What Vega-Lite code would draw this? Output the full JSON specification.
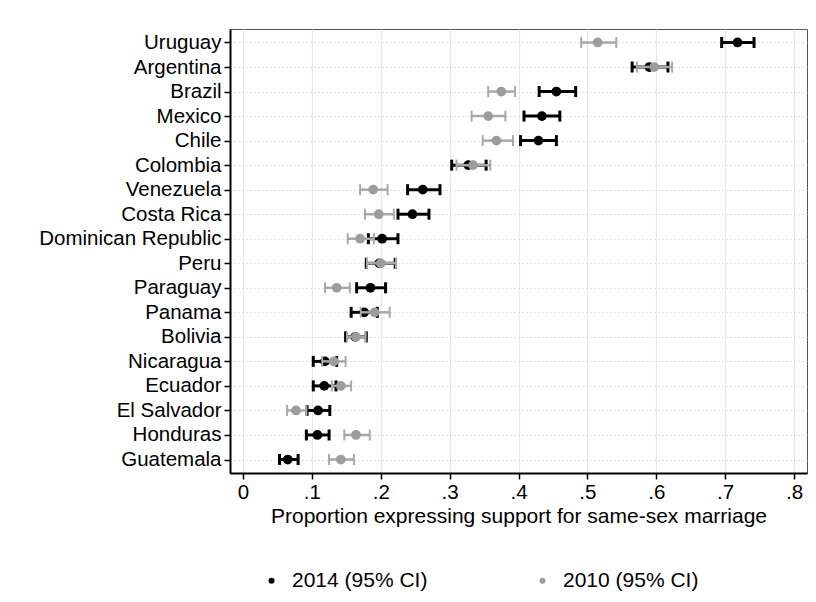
{
  "$schema": "https://vega.github.io/schema/vega-lite/v6.json",
  "width": 577,
  "height": 444,
  "autosize": "none",
  "padding": {"left": 230, "top": 29, "right": 9, "bottom": 129},
  "background": "white",
  "config": {
    "font": "Liberation Sans",
    "view": {"stroke": "#555555", "strokeWidth": 1}
  },
  "data": {
    "values": [
      {"country": "Uruguay", "series": "2014 (95% CI)", "est": 0.718, "lo": 0.695, "hi": 0.742},
      {"country": "Argentina", "series": "2014 (95% CI)", "est": 0.590, "lo": 0.565, "hi": 0.617},
      {"country": "Brazil", "series": "2014 (95% CI)", "est": 0.455, "lo": 0.430, "hi": 0.483},
      {"country": "Mexico", "series": "2014 (95% CI)", "est": 0.434, "lo": 0.408, "hi": 0.460},
      {"country": "Chile", "series": "2014 (95% CI)", "est": 0.429, "lo": 0.403, "hi": 0.455},
      {"country": "Colombia", "series": "2014 (95% CI)", "est": 0.327, "lo": 0.303, "hi": 0.353},
      {"country": "Venezuela", "series": "2014 (95% CI)", "est": 0.261, "lo": 0.239, "hi": 0.286},
      {"country": "Costa Rica", "series": "2014 (95% CI)", "est": 0.246, "lo": 0.225, "hi": 0.270},
      {"country": "Dominican Republic", "series": "2014 (95% CI)", "est": 0.202, "lo": 0.182, "hi": 0.225},
      {"country": "Peru", "series": "2014 (95% CI)", "est": 0.198, "lo": 0.179, "hi": 0.221},
      {"country": "Paraguay", "series": "2014 (95% CI)", "est": 0.185, "lo": 0.165, "hi": 0.207},
      {"country": "Panama", "series": "2014 (95% CI)", "est": 0.176, "lo": 0.157, "hi": 0.195},
      {"country": "Bolivia", "series": "2014 (95% CI)", "est": 0.163, "lo": 0.149, "hi": 0.179},
      {"country": "Nicaragua", "series": "2014 (95% CI)", "est": 0.119, "lo": 0.102, "hi": 0.136},
      {"country": "Ecuador", "series": "2014 (95% CI)", "est": 0.118, "lo": 0.102, "hi": 0.135},
      {"country": "El Salvador", "series": "2014 (95% CI)", "est": 0.109, "lo": 0.093, "hi": 0.126},
      {"country": "Honduras", "series": "2014 (95% CI)", "est": 0.108, "lo": 0.092, "hi": 0.125},
      {"country": "Guatemala", "series": "2014 (95% CI)", "est": 0.065, "lo": 0.053, "hi": 0.080},
      {"country": "Uruguay", "series": "2010 (95% CI)", "est": 0.515, "lo": 0.491, "hi": 0.542},
      {"country": "Argentina", "series": "2010 (95% CI)", "est": 0.597, "lo": 0.572, "hi": 0.623},
      {"country": "Brazil", "series": "2010 (95% CI)", "est": 0.375, "lo": 0.356, "hi": 0.395},
      {"country": "Mexico", "series": "2010 (95% CI)", "est": 0.356, "lo": 0.332, "hi": 0.381},
      {"country": "Chile", "series": "2010 (95% CI)", "est": 0.368, "lo": 0.348, "hi": 0.392},
      {"country": "Colombia", "series": "2010 (95% CI)", "est": 0.334, "lo": 0.310, "hi": 0.359},
      {"country": "Venezuela", "series": "2010 (95% CI)", "est": 0.189, "lo": 0.170, "hi": 0.210},
      {"country": "Costa Rica", "series": "2010 (95% CI)", "est": 0.197, "lo": 0.177, "hi": 0.219},
      {"country": "Dominican Republic", "series": "2010 (95% CI)", "est": 0.170, "lo": 0.152, "hi": 0.190},
      {"country": "Peru", "series": "2010 (95% CI)", "est": 0.200, "lo": 0.180, "hi": 0.222},
      {"country": "Paraguay", "series": "2010 (95% CI)", "est": 0.136, "lo": 0.119, "hi": 0.155},
      {"country": "Panama", "series": "2010 (95% CI)", "est": 0.191, "lo": 0.171, "hi": 0.213},
      {"country": "Bolivia", "series": "2010 (95% CI)", "est": 0.164, "lo": 0.151, "hi": 0.178},
      {"country": "Nicaragua", "series": "2010 (95% CI)", "est": 0.132, "lo": 0.115, "hi": 0.149},
      {"country": "Ecuador", "series": "2010 (95% CI)", "est": 0.142, "lo": 0.129, "hi": 0.157},
      {"country": "El Salvador", "series": "2010 (95% CI)", "est": 0.077, "lo": 0.064, "hi": 0.092},
      {"country": "Honduras", "series": "2010 (95% CI)", "est": 0.164, "lo": 0.147, "hi": 0.184},
      {"country": "Guatemala", "series": "2010 (95% CI)", "est": 0.142, "lo": 0.125, "hi": 0.161}
    ]
  },
  "encoding": {
    "y": {
      "field": "country",
      "type": "nominal",
      "sort": ["Uruguay", "Argentina", "Brazil", "Mexico", "Chile", "Colombia", "Venezuela", "Costa Rica", "Dominican Republic", "Peru", "Paraguay", "Panama", "Bolivia", "Nicaragua", "Ecuador", "El Salvador", "Honduras", "Guatemala"],
      "scale": {"type": "point", "padding": 0.55},
      "axis": {
        "title": null,
        "labelFontSize": 20.5,
        "labelColor": "#000000",
        "labelPadding": 3,
        "labelLimit": 400,
        "tickSize": 6,
        "tickColor": "#000000",
        "tickWidth": 1.5,
        "domainColor": "#000000",
        "domainWidth": 2,
        "grid": true,
        "gridColor": "#c4c4c4",
        "gridDash": [1, 3],
        "gridWidth": 1.2
      }
    }
  },
  "layer": [
    {
      "transform": [{"filter": "datum.series === '2014 (95% CI)'"}],
      "mark": {"type": "rule", "color": "#000000", "strokeWidth": 3},
      "encoding": {
        "x": {
          "field": "lo",
          "type": "quantitative",
          "scale": {"domain": [-0.0189, 0.8189], "nice": false, "zero": false},
          "axis": {
            "values": [0, 0.1, 0.2, 0.3, 0.4, 0.5, 0.6, 0.7, 0.8],
            "labelExpr": "datum.value == 0 ? '0' : replace(format(datum.value, '.1f'), '0.', '.')",
            "labelFontSize": 20.5,
            "labelColor": "#000000",
            "labelPadding": 3,
            "tickSize": 6,
            "tickColor": "#000000",
            "tickWidth": 1.5,
            "domainColor": "#000000",
            "domainWidth": 2,
            "grid": true,
            "gridColor": "#e8e8e8",
            "gridDash": [],
            "gridWidth": 1.2,
            "title": "Proportion expressing support for same-sex marriage",
            "titleFontSize": 21,
            "titleFontWeight": "normal",
            "titleColor": "#000000",
            "titlePadding": 3
          }
        },
        "x2": {"field": "hi"}
      }
    },
    {
      "transform": [{"filter": "datum.series === '2014 (95% CI)'"}, {"fold": ["lo", "hi"], "as": ["end", "val"]}],
      "mark": {"type": "tick", "color": "#000000", "thickness": 3, "size": 11, "opacity": 1},
      "encoding": {"x": {"field": "val", "type": "quantitative"}}
    },
    {
      "transform": [{"filter": "datum.series === '2014 (95% CI)'"}],
      "mark": {"type": "point", "filled": true, "size": 95, "opacity": 1},
      "encoding": {
        "x": {"field": "est", "type": "quantitative"},
        "color": {
          "field": "series",
          "type": "nominal",
          "scale": {"domain": ["2014 (95% CI)", "2010 (95% CI)"], "range": ["#000000", "#9c9c9c"]},
          "legend": {
            "title": null,
            "orient": "none",
            "direction": "horizontal",
            "legendX": 31,
            "legendY": 541,
            "symbolType": "circle",
            "symbolSize": 36,
            "labelFontSize": 21,
            "labelColor": "#000000",
            "labelOffset": 10,
            "columnPadding": 104,
            "padding": 0
          }
        }
      }
    },
    {
      "transform": [{"filter": "datum.series === '2010 (95% CI)'"}],
      "mark": {"type": "rule", "color": "#a8a8a8", "strokeWidth": 2.5},
      "encoding": {
        "x": {"field": "lo", "type": "quantitative"},
        "x2": {"field": "hi"}
      }
    },
    {
      "transform": [{"filter": "datum.series === '2010 (95% CI)'"}, {"fold": ["lo", "hi"], "as": ["end", "val"]}],
      "mark": {"type": "tick", "color": "#a8a8a8", "thickness": 2, "size": 11, "opacity": 1},
      "encoding": {"x": {"field": "val", "type": "quantitative"}}
    },
    {
      "transform": [{"filter": "datum.series === '2010 (95% CI)'"}],
      "mark": {"type": "point", "filled": true, "size": 95, "opacity": 1},
      "encoding": {
        "x": {"field": "est", "type": "quantitative"},
        "color": {"field": "series", "type": "nominal"}
      }
    }
  ]
}
